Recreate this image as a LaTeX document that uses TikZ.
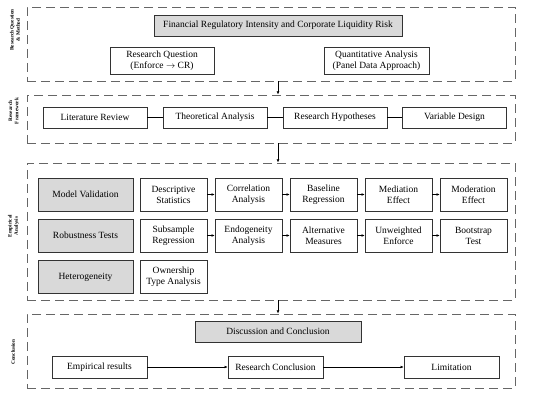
\documentclass[tikz,border=0pt]{standalone}
\usepackage{fontspec}
\setmainfont{Liberation Serif}
\usetikzlibrary{arrows.meta}

\begin{document}
\begin{tikzpicture}[x=1pt,y=-1pt,
    >={Latex[length=3.2pt,width=2.8pt]},
    frame/.style={draw=black!60,line width=0.8pt,dash pattern=on 9pt off 5pt,minimum width=488pt},
    box/.style={draw=black!80,line width=0.6pt,align=center,inner sep=1pt,font=\fontsize{9.5}{11}\selectfont},
    gbox/.style={box,fill=gray!30},
    side/.style={rotate=90,align=center,font=\bfseries\fontsize{5.2}{6.2}\selectfont}]
    \useasboundingbox (0,0) rectangle (550,398);

    \node[frame,minimum height=74pt] (sec1) at (271,44) {};
    \node[frame,minimum height=48pt] (sec2) at (271,119) {};
    \node[frame,minimum height=137pt] (sec3) at (271,231.5) {};
    \node[frame,minimum height=74pt] (sec4) at (271,351) {};

    \node[side] (lab1) at (15,30) {Research Question\\\& Method};
    \node[side] (lab2) at (13.5,111) {Research\\Framework};
    \node[side] (lab3) at (13.5,226) {Empirical\\Analysis};
    \node[side] (lab4) at (13,352) {Conclusion};

    \node[gbox,minimum width=248pt,minimum height=21pt] (title) at (278,25.5)
      {Financial Regulatory Intensity and Corporate Liquidity Risk};
    \node[box,minimum width=104pt,minimum height=27pt] (question) at (162,60.5)
      {Research Question\\(Enforce $\rightarrow$ CR)};
    \node[box,minimum width=105pt,minimum height=27pt] (method) at (376.5,60.5)
      {Quantitative Analysis\\(Panel Data Approach)};

    \foreach \n/\cx/\txt in {lit/95/Literature Review,theo/215/Theoretical Analysis,
        hyp/335/Research Hypotheses,var/454.5/Variable Design} {
      \node[box,minimum width=104pt,minimum height=21pt] (\n) at (\cx,117.5) {\txt};
    }
    \draw[line width=0.6pt] (lit) -- (theo) (theo) -- (hyp) (hyp) -- (var);

    \foreach \n/\cy/\txt in {valid/194.5/Model Validation,robust/235.5/Robustness Tests,
        hetero/277/Heterogeneity} {
      \node[gbox,minimum width=95pt,minimum height=33pt] (\n) at (85.5,\cy) {\txt};
    }
    \foreach \n/\cx/\cy/\txt in {desc/173.5/194.5/Descriptive\\Statistics,
        corr/248.5/194.5/Correlation\\Analysis,base/323.5/194.5/Baseline\\Regression,
        med/398.5/194.5/Mediation\\Effect,mod/473.5/194.5/Moderation\\Effect,
        sub/173.5/235.5/Subsample\\Regression,endo/248.5/235.5/Endogeneity\\Analysis,
        alt/323.5/235.5/Alternative\\Measures,unw/398.5/235.5/Unweighted\\Enforce,
        boot/473.5/235.5/Bootstrap\\Test,own/173.5/277/Ownership\\Type Analysis} {
      \node[box,minimum width=67pt,minimum height=33pt] (\n) at (\cx,\cy) {\txt};
    }
    \foreach \a/\b in {desc/corr,corr/base,base/med,med/mod,sub/endo,endo/alt,alt/unw,unw/boot} {
      \draw[->,line width=0.6pt] (\a) -- (\b);
    }

    \node[gbox,minimum width=166pt,minimum height=21pt] (disc) at (278,331.5) {Discussion and Conclusion};
    \node[box,minimum width=95pt,minimum height=22pt] (emp) at (99.5,367) {Empirical results};
    \node[box,minimum width=95pt,minimum height=22pt] (concl) at (275.5,367) {Research Conclusion};
    \node[box,minimum width=95pt,minimum height=22pt] (limit) at (451.5,367) {Limitation};
    \draw[->,line width=0.6pt] (emp) -- (concl);
    \draw[->,line width=0.6pt] (concl) -- (limit);

    \draw[->,line width=0.6pt] (title |- sec1.south) -- (title |- sec2.north);
    \draw[->,line width=0.6pt] (title |- sec2.south) -- (title |- sec3.north);
    \draw[->,line width=0.6pt] (title |- sec3.south) -- (title |- sec4.north);
\end{tikzpicture}
\end{document}
